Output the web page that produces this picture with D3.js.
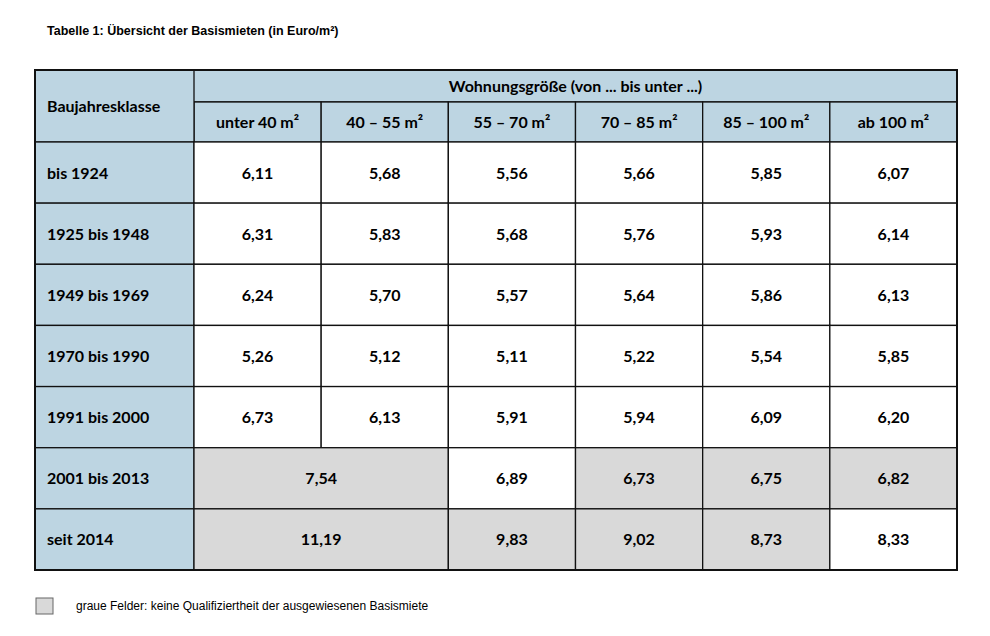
<!DOCTYPE html>
<html><head><meta charset="utf-8">
<script src="https://cdn.jsdelivr.net/npm/d3@7"></script>
<style>body{margin:0;background:#fff}</style>
</head><body><div id="chart"></div>
<script>
const sizes = ['unter 40 m²', '40 – 55 m²', '55 – 70 m²', '70 – 85 m²', '85 – 100 m²', 'ab 100 m²'];
const classes = ['bis 1924', '1925 bis 1948', '1949 bis 1969', '1970 bis 1990', '1991 bis 2000', '2001 bis 2013', 'seit 2014'];
// null = merged into the cell on the left
const values = [
  ['6,11', '5,68', '5,56', '5,66', '5,85', '6,07'],
  ['6,31', '5,83', '5,68', '5,76', '5,93', '6,14'],
  ['6,24', '5,70', '5,57', '5,64', '5,86', '6,13'],
  ['5,26', '5,12', '5,11', '5,22', '5,54', '5,85'],
  ['6,73', '6,13', '5,91', '5,94', '6,09', '6,20'],
  ['7,54', null, '6,89', '6,73', '6,75', '6,82'],
  ['11,19', null, '9,83', '9,02', '8,73', '8,33']
];
const grey = [
  [0, 0, 0, 0, 0, 0],
  [0, 0, 0, 0, 0, 0],
  [0, 0, 0, 0, 0, 0],
  [0, 0, 0, 0, 0, 0],
  [0, 0, 0, 0, 0, 0],
  [1, 1, 0, 1, 1, 1],
  [1, 1, 1, 1, 1, 0]
];

const W = 990, H = 636;
const blue = '#bdd5e2', gray = '#d9d9d9';
const font = 'Lato, "Open Sans", sans-serif';
const svg = d3.select('#chart').append('svg').attr('width', W).attr('height', H);

const tLeft = 35, colStart = 194, tRight = 957;
const tTop = 70, head1 = 102, rowStart = 142, tBottom = 570;

const x = d3.scaleBand().domain(d3.range(sizes.length)).range([colStart, tRight]);
const y = d3.scaleBand().domain(d3.range(classes.length)).range([rowStart, tBottom]);

svg.append('text').attr('x', 47).attr('y', 35)
  .attr('font-family', 'Liberation Sans, Arial').attr('font-weight', 'bold').attr('font-size', 12.5)
  .text('Tabelle 1: Übersicht der Basismieten (in Euro/m²)');

const g = svg.append('g').attr('stroke', '#111').attr('stroke-width', 1.3);

// header
g.append('rect').attr('x', tLeft).attr('y', tTop).attr('width', tRight - tLeft).attr('height', rowStart - tTop).attr('fill', blue);
g.append('line').attr('x1', colStart).attr('x2', tRight).attr('y1', head1).attr('y2', head1);
g.selectAll('.hc').data(sizes).join('rect')
  .attr('x', (d, i) => x(i)).attr('y', head1).attr('width', x.bandwidth()).attr('height', rowStart - head1).attr('fill', blue);
g.append('rect').attr('x', tLeft).attr('y', tTop).attr('width', colStart - tLeft).attr('height', rowStart - tTop).attr('fill', blue);

// rows
classes.forEach((c, r) => {
  g.append('rect').attr('x', tLeft).attr('y', y(r)).attr('width', colStart - tLeft).attr('height', y.bandwidth()).attr('fill', blue);
  values[r].forEach((v, i) => {
    if (v === null) return;
    let span = 1;
    while (i + span < values[r].length && values[r][i + span] === null) span++;
    g.append('rect').attr('x', x(i)).attr('y', y(r)).attr('width', x.bandwidth() * span).attr('height', y.bandwidth())
      .attr('fill', grey[r][i] ? gray : '#fff');
    svg.append('text').attr('x', x(i) + x.bandwidth() * span / 2).attr('y', y(r) + y.bandwidth() / 2 + 6)
      .attr('text-anchor', 'middle').attr('font-family', font).attr('font-weight', 'bold').attr('font-size', 16)
      .text(v);
  });
  svg.append('text').attr('x', 47).attr('y', y(r) + y.bandwidth() / 2 + 6)
    .attr('font-family', font).attr('font-weight', 'bold').attr('font-size', 16).text(c);
});

// outer border
svg.append('rect').attr('x', tLeft).attr('y', tTop).attr('width', tRight - tLeft).attr('height', tBottom - tTop)
  .attr('fill', 'none').attr('stroke', '#111').attr('stroke-width', 2);

// header texts
svg.append('text').attr('x', 47).attr('y', 112).attr('font-family', font).attr('font-weight', 'bold').attr('font-size', 16).text('Baujahresklasse');
svg.append('text').attr('x', (colStart + tRight) / 2).attr('y', 92).attr('text-anchor', 'middle')
  .attr('font-family', font).attr('font-weight', 'bold').attr('font-size', 16).text('Wohnungsgröße (von ... bis unter ...)');
svg.selectAll('.hl').data(sizes).join('text')
  .attr('x', (d, i) => x(i) + x.bandwidth() / 2).attr('y', 128).attr('text-anchor', 'middle')
  .attr('font-family', font).attr('font-weight', 'bold').attr('font-size', 16).text(d => d);

// legend
svg.append('rect').attr('x', 36).attr('y', 598).attr('width', 17).attr('height', 16)
  .attr('fill', gray).attr('stroke', '#666').attr('stroke-width', 1);
svg.append('text').attr('x', 76).attr('y', 610).attr('font-family', 'Liberation Sans, Arial').attr('font-size', 12)
  .text('graue Felder: keine Qualifiziertheit der ausgewiesenen Basismiete');
</script></body></html>
